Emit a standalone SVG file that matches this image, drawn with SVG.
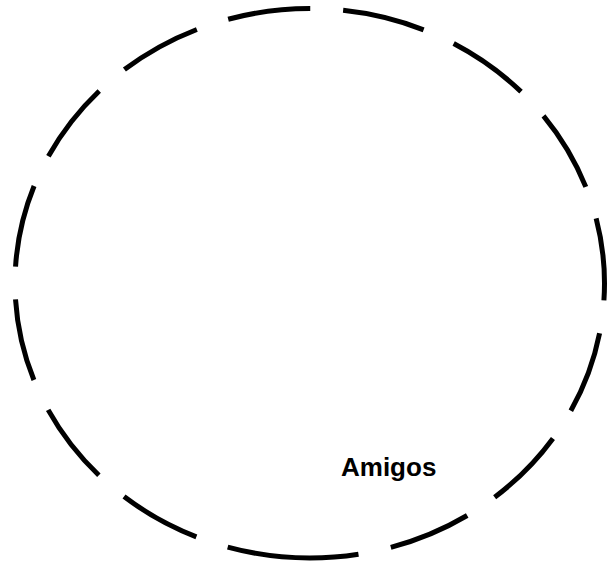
<svg xmlns="http://www.w3.org/2000/svg" width="607" height="565" viewBox="0 0 607 565">
<style>
.ring{fill:none;stroke:#000;stroke-width:5;stroke-dasharray:83 33;stroke-linecap:butt}
.lbl{font-family:"Liberation Sans",Arial,sans-serif;font-weight:bold;font-size:26px;fill:#000}
</style>
<rect width="607" height="565" fill="#fff"/>
<g id="amigos">
<path class="ring" d="M309.75,558 A294.75,274.75 0 0 1 15,283.25 A294.75,274.75 0 0 1 309.75,8.5 A294.75,274.75 0 0 1 604.5,283.25 A294.75,274.75 0 0 1 309.75,558 Z"/>
<text class="lbl" x="341" y="476">Amigos</text>
</g>
<g id="connectors"/>
</svg>
